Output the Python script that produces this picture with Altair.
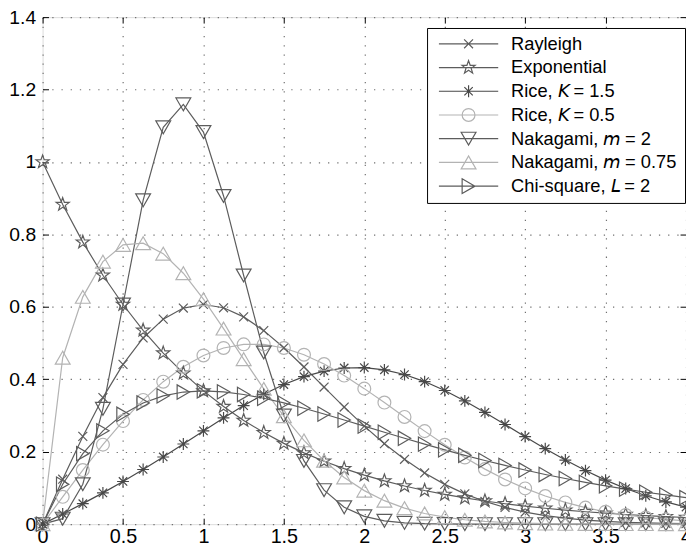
import altair as alt
import pandas as pd

# ---------------- data ----------------
X = [0, 0.125, 0.25, 0.375, 0.5, 0.625, 0.75, 0.875, 1, 1.125, 1.25, 1.375, 1.5,
     1.625, 1.75, 1.875, 2, 2.125, 2.25, 2.375, 2.5, 2.625, 2.75, 2.875, 3,
     3.125, 3.25, 3.375, 3.5, 3.625, 3.75, 3.875, 4]

rayleigh = [0, 0.124, 0.2423, 0.3495, 0.4412, 0.5141, 0.5661, 0.5967, 0.6065, 0.5975,
            0.5723, 0.5343, 0.487, 0.434, 0.3785, 0.3233, 0.2707, 0.2222, 0.179, 0.1415,
            0.1098, 0.0837, 0.0627, 0.0461, 0.0333, 0.0237, 0.0165, 0.0113, 0.0077,
            0.0051, 0.0033, 0.0021, 0.0013]
exponential = [1, 0.8825, 0.7788, 0.6873, 0.6065, 0.5353, 0.4724, 0.4169, 0.3679, 0.3247,
               0.2865, 0.2528, 0.2231, 0.1969, 0.1738, 0.1534, 0.1353, 0.1194, 0.1054,
               0.093, 0.0821, 0.0724, 0.0639, 0.0564, 0.0498, 0.0439, 0.0388, 0.0342,
               0.0302, 0.0267, 0.0235, 0.0208, 0.0183]
rice_k15 = [0, 0.028, 0.0566, 0.0864, 0.1178, 0.1509, 0.1855, 0.2213, 0.2575, 0.2933,
            0.3273, 0.3585, 0.3855, 0.4072, 0.4227, 0.4312, 0.4324, 0.4261, 0.4131,
            0.3937, 0.3691, 0.3402, 0.3085, 0.2752, 0.2415, 0.2084, 0.177, 0.1479,
            0.1216, 0.0983, 0.0783, 0.0613, 0.0472]
rice_k05 = [0, 0.0755, 0.1493, 0.2195, 0.2846, 0.343, 0.3934, 0.4346, 0.4658, 0.4865,
            0.4965, 0.4963, 0.4864, 0.4678, 0.442, 0.4102, 0.3742, 0.3357, 0.2961,
            0.2569, 0.2192, 0.184, 0.1519, 0.1234, 0.0987, 0.0776, 0.06, 0.0457,
            0.0343, 0.0253, 0.0183, 0.0131, 0.0092]
nakagami_m2 = [0, 0.0151, 0.1103, 0.3184, 0.6065, 0.8942, 1.0957, 1.1591, 1.0827, 0.9062,
               0.6866, 0.474, 0.2999, 0.1746, 0.0938, 0.0466, 0.0215, 0.0092, 0.0036,
               0.0014, 0.0005, 0.0002, 0, 0, 0, 0, 0, 0, 0, 0, 0, 0, 0]
nakagami_m075 = [0, 0.4596, 0.6276, 0.7248, 0.7711, 0.7758, 0.747, 0.6929, 0.6213, 0.54,
                 0.4556, 0.3736, 0.298, 0.2314, 0.175, 0.129, 0.0926, 0.0648, 0.0443,
                 0.0295, 0.0192, 0.0121, 0.0075, 0.0045, 0.0027, 0.0015, 0.0009, 0.0005,
                 0.0003, 0.0001, 0.0001, 0, 0]
chi_square = [0, 0.1103, 0.1947, 0.2577, 0.3033, 0.3346, 0.3543, 0.3648, 0.3679, 0.3653,
              0.3581, 0.3476, 0.3347, 0.32, 0.3041, 0.2876, 0.2707, 0.2537, 0.2371,
              0.2209, 0.2052, 0.1901, 0.1757, 0.1622, 0.1494, 0.1372, 0.1261, 0.1154,
              0.1057, 0.0968, 0.0881, 0.0806, 0.0733]

# italic K, m, L: mathematical sans-serif italic letters
K_IT = "\U0001D612"
M_IT = "\U0001D62E"
L_IT = "\U0001D613"
series_names = [
    "Rayleigh",
    "Exponential",
    f"Rice, {K_IT}\u2009= 1.5",
    f"Rice, {K_IT}\u2009= 0.5",
    f"Nakagami, {M_IT}\u2009= 2",
    f"Nakagami, {M_IT}\u2009= 0.75",
    f"Chi-square, {L_IT}\u2009= 2",
]
series_values = [rayleigh, exponential, rice_k15, rice_k05, nakagami_m2, nakagami_m075, chi_square]

x_ticks = [0, 0.5, 1, 1.5, 2, 2.5, 3, 3.5, 4]
y_ticks = [0, 0.2, 0.4, 0.6, 0.8, 1, 1.2, 1.4]

# ---------------- styles ----------------
DARK = "#5c5c5c"
DARKER = "#484848"
LIGHT = "#b3b3b3"
series_colors = [DARK, DARK, DARKER, LIGHT, DARK, LIGHT, DARK]

STAR_UNIT = [(0, -1), (0.2351, -0.3236), (0.9511, -0.309), (0.3804, 0.1236),
             (0.5878, 0.809), (0, 0.4), (-0.5878, 0.809), (-0.3804, 0.1236),
             (-0.9511, -0.309), (-0.2351, -0.3236)]


def poly(points, s):
    return "M" + "L".join(f"{px * s:.4f},{py * s:.4f}" for px, py in points) + "Z"


def cross(s):
    return f"M{-s:.4f},{-s:.4f}L{s:.4f},{s:.4f}M{-s:.4f},{s:.4f}L{s:.4f},{-s:.4f}"


def asterisk(s):
    d = s * 0.7071
    return (f"M0,{-s:.4f}L0,{s:.4f}M{-s:.4f},0L{s:.4f},0"
            f"M{-d:.4f},{-d:.4f}L{d:.4f},{d:.4f}M{-d:.4f},{d:.4f}L{d:.4f},{-d:.4f}")


def circle(r):
    return f"M{r:.4f},0A{r:.4f},{r:.4f} 0 1 1 {-r:.4f},0A{r:.4f},{r:.4f} 0 1 1 {r:.4f},0Z"


marker_shapes = [cross(1), poly(STAR_UNIT, 1), asterisk(1), "circle",
                 "triangle-down", "triangle-up", "triangle-right"]
marker_sizes = [81, 196, 144, 169, 225, 225, 210]

# legend symbol: 60px line (path -1..1 with size 3600 -> 30 px per unit) + marker
U = 30.0
LINE = "M-1,0L1,0"
legend_shapes = [
    LINE + cross(4.5 / U),
    LINE + poly(STAR_UNIT, 7 / U),
    LINE + asterisk(6 / U),
    LINE + circle(6.5 / U),
    LINE + poly([(-7.5, -6.5), (7.5, -6.5), (0, 6.5)], 1 / U),
    LINE + poly([(-7.5, 6.5), (7.5, 6.5), (0, -6.5)], 1 / U),
    LINE + poly([(-6.5, -7.5), (-6.5, 7.5), (6.5, 0)], 1 / U),
]

rows = []
for name, vals in zip(series_names, series_values):
    for xv, yv in zip(X, vals):
        rows.append({"x": xv, "y": yv, "series": name})
df = pd.DataFrame(rows)

FONT = "Liberation Sans"
xscale = alt.Scale(domain=[0, 4], nice=False, zero=False)
yscale = alt.Scale(domain=[0, 1.4], nice=False, zero=False)

GRID_DASH = [1.3, 8]
common_axis = dict(title=None, domain=False, tickSize=6, tickColor="black", tickWidth=1,
                   offset=-6, labelFlush=False, labelOverlap=False)

x_bottom = alt.Axis(orient="bottom", values=x_ticks, format="~g", grid=True,
                    gridDash=GRID_DASH, gridColor="#707070", gridWidth=1.2,
                    labelFontSize=20, labelFont=FONT, labelColor="black",
                    labelPadding=3, **common_axis)
y_left = alt.Axis(orient="left", values=y_ticks, format="~g", grid=True,
                  gridDash=GRID_DASH, gridColor="#707070", gridWidth=1.2,
                  labelFontSize=19.5, labelFont=FONT, labelColor="black",
                  labelPadding=7, **common_axis)
x_top = alt.Axis(orient="top", values=x_ticks, labels=False, grid=False, **common_axis)
y_right = alt.Axis(orient="right", values=y_ticks, labels=False, grid=False, **common_axis)

color_scale = alt.Scale(domain=series_names, range=series_colors)

base = alt.Chart(df)

lines = base.mark_line(strokeWidth=1.2).encode(
    x=alt.X("x:Q", scale=xscale, axis=x_bottom),
    y=alt.Y("y:Q", scale=yscale, axis=y_left),
    color=alt.Color("series:N", scale=color_scale, legend=None),
    order=alt.Order("x:Q"),
)

points = base.mark_point(filled=False, opacity=1, strokeWidth=1.2).encode(
    x=alt.X("x:Q", scale=xscale, axis=x_top),
    y=alt.Y("y:Q", scale=yscale, axis=y_right),
    color=alt.Color("series:N", scale=color_scale, legend=None),
    shape=alt.Shape("series:N", scale=alt.Scale(domain=series_names, range=marker_shapes),
                    legend=None),
    size=alt.Size("series:N", scale=alt.Scale(type="ordinal", domain=series_names,
                                              range=marker_sizes), legend=None),
)

leg = alt.Legend(
    title=None, orient="none", legendX=389, legendY=11,
    symbolSize=3600, symbolStrokeWidth=1.2, clipHeight=18, rowPadding=5.0,
    padding=7, symbolOffset=4, labelOffset=12, labelFontSize=18.5, labelFont=FONT,
    labelColor="black", labelLimit=400, strokeColor="black", fillColor="white",
)

legend_layer = base.mark_point(filled=False, opacity=1, size=3600, strokeWidth=1.2).encode(
    x=alt.X("x:Q", scale=xscale, axis=None),
    y=alt.Y("y:Q", scale=yscale, axis=None),
    color=alt.Color("series:N", scale=color_scale, legend=leg),
    shape=alt.Shape("series:N", scale=alt.Scale(domain=series_names, range=legend_shapes),
                    legend=leg),
).transform_filter("false")

chart = (
    alt.layer(lines, points, legend_layer)
    .resolve_scale(color="independent", shape="independent", size="independent")
    .resolve_axis(x="independent", y="independent")
    .properties(
        width=651, height=513,
        autosize=alt.AutoSizeParams(type="none"),
        padding={"left": 35, "top": 6, "right": 0, "bottom": 30},
        background="white",
    )
    .configure_view(stroke="black", strokeWidth=1.6)
    .configure_legend(strokeWidth=1.5)
    .configure(font=FONT)
)

chart.save("out.html", embed_options={"renderer": "svg", "actions": False})
